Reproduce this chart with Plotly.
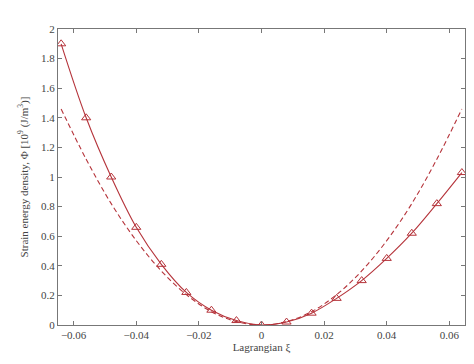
import plotly.graph_objects as go

xi = [-0.064, -0.056, -0.048, -0.040, -0.032, -0.024, -0.016, -0.008, 0.0,
      0.008, 0.016, 0.024, 0.032, 0.040, 0.048, 0.056, 0.064]
phi_solid = [1.90, 1.40, 1.00, 0.66, 0.41, 0.22, 0.10, 0.03, 0.0,
             0.02, 0.08, 0.18, 0.30, 0.45, 0.62, 0.82, 1.03]
phi_dashed = [1.46, 1.12, 0.82, 0.57, 0.365, 0.205, 0.09, 0.023, 0.0,
              0.023, 0.09, 0.205, 0.365, 0.57, 0.82, 1.12, 1.46]

xticks = [-0.06, -0.04, -0.02, 0, 0.02, 0.04, 0.06]
xticklabels = ["\u22120.06", "\u22120.04", "\u22120.02", "0", "0.02", "0.04", "0.06"]
yticks = [0, 0.2, 0.4, 0.6, 0.8, 1, 1.2, 1.4, 1.6, 1.8, 2]
yticklabels = ["0", "0.2", "0.4", "0.6", "0.8", "1", "1.2", "1.4", "1.6", "1.8", "2"]

red = "#b5333a"
fig = go.Figure()
fig.add_trace(go.Scatter(x=xi, y=phi_dashed, mode="lines",
                         line=dict(color=red, width=1.1, dash="5px,3px", shape="spline"),
                         showlegend=False))
fig.add_trace(go.Scatter(x=xi, y=phi_solid, mode="lines+markers",
                         line=dict(color=red, width=1.1, shape="spline"),
                         marker=dict(symbol="triangle-up-open", size=8, color=red, line=dict(width=1)),
                         showlegend=False))

font = dict(family="Liberation Serif, Times New Roman, serif", size=11, color="#444")
axis_common = dict(showline=True, linecolor="#777", linewidth=1, mirror="ticks",
                   ticks="inside", ticklen=4, tickcolor="#777", showgrid=False,
                   zeroline=False, tickfont=font)
fig.update_xaxes(range=[-0.065, 0.065], tickvals=xticks, ticktext=xticklabels,
                 title=dict(text="Lagrangian \u03be", font=font, standoff=3), **axis_common)
fig.update_yaxes(range=[0, 2], tickvals=yticks, ticktext=yticklabels,
                 title=dict(text="Strain energy density, \u03a6 [10<sup>9</sup> (J/m<sup>3</sup>)]",
                            font=font, standoff=10), **axis_common)
fig.update_layout(width=474, height=364, margin=dict(l=50, r=17, t=21, b=47),
                  plot_bgcolor="white", paper_bgcolor="white", font=font)
fig.write_html("out.html")
